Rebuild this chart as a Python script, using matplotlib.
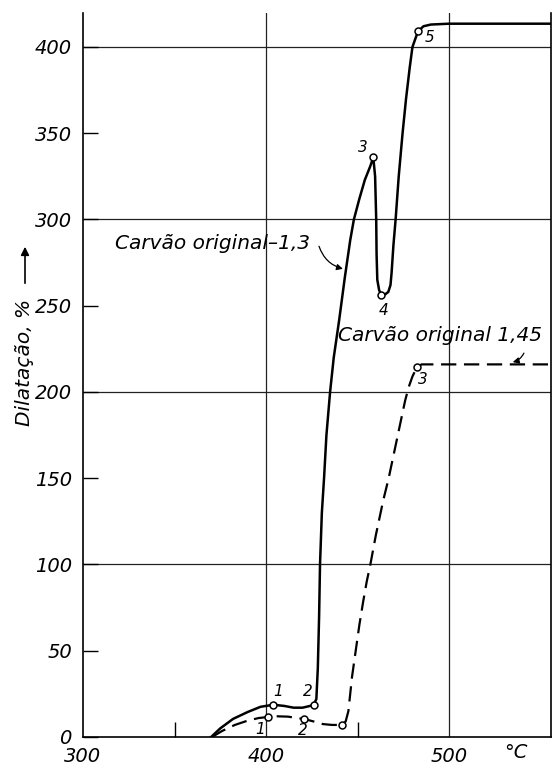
import matplotlib
matplotlib.use("Agg")
import matplotlib.pyplot as plt

plt.rcParams['font.family'] = ['DejaVu Sans']
plt.rcParams['lines.scale_dashes'] = False

# curve "Carvao original - 1,3" (solid)
t_solid = [370, 375, 382, 390, 397, 404, 410, 415, 420, 424, 426, 427.5, 428.3, 429, 429.5,
           430.5, 431.7, 433, 435, 437, 440, 443, 446, 448, 451, 454, 457, 458.6,
           459.6, 460.2, 460.4, 460.8, 461.8, 463, 465, 466.8, 468, 468.6, 469.6, 470.8,
           472.5, 474.6, 476.5, 478.5, 480, 483, 486, 490, 500, 556]
d_solid = [0, 5, 10.5, 14.5, 17.5, 18.7, 18, 17, 17, 18, 18.7, 22, 40, 70, 100,
           130, 150, 175, 200, 220, 242, 266, 288, 300, 312, 323, 331, 336,
           325, 300, 280, 265, 259, 256.5, 256.5, 258, 262, 269, 285, 300,
           325, 350, 370, 388, 400, 409, 412, 413, 413.5, 413.5]

# curve "Carvao original 1,45" (dashed)
t_dash = [370.5, 376, 383, 390, 396, 401, 406, 412, 417, 421, 426, 431, 436, 441.5, 443.5,
          445, 446, 447, 449, 451, 453, 455, 457, 460, 464, 467, 470, 473, 476, 478, 480,
          482.5, 485, 556]
d_dash = [0, 3.5, 7, 9.5, 11, 11.6, 12, 11.8, 11, 10.4, 9, 7.5, 7, 7, 9,
          15, 25, 35, 50, 65, 78, 90, 100, 117, 137, 150, 165, 180, 195, 203, 209,
          214.5, 216, 216]

# numbered points
pts_solid_t = [404, 426, 458.6, 463, 483]
pts_solid_d = [18.7, 18.7, 336, 256.5, 409]
pts_solid_lbl = ["1", "2", "3", "4", "5"]
pts_dash_t = [401, 421, 441.5, 482.5]
pts_dash_d = [11.6, 10.4, 7, 214.5]
pts_dash_lbl = ["1", "2", "", "3"]

x_ticks = [300, 400, 500]
y_ticks = [0, 50, 100, 150, 200, 250, 300, 350, 400]

fig = plt.figure(figsize=(5.52, 7.65), dpi=100)
ax = fig.add_axes([83 / 552, 28 / 765, 468 / 552, 724 / 765])
ax.set_xlim(300, 555.7)
ax.set_ylim(0, 419.7)

# grid lines of the drawing
for v in [100, 200, 300, 400]:
    ax.axhline(v, color="#222222", lw=0.9, zorder=1)
for v in [400, 500]:
    ax.axvline(v, color="#222222", lw=0.9, zorder=1)

ax.plot(t_solid, d_solid, color="black", lw=1.8, zorder=3)
ax.plot(t_dash, d_dash, color="black", lw=1.6, dashes=(11, 5.5), zorder=3)
ax.plot(pts_solid_t, pts_solid_d, "o", ms=5, mfc="white", mec="black", mew=1.1, zorder=4)
ax.plot(pts_dash_t, pts_dash_d, "o", ms=5, mfc="white", mec="black", mew=1.1, zorder=4)

# point numbers
lbl_font = dict(fontsize=11, style="italic", ha="center", va="center")
solid_off = [(2.5, 7.5), (-3, 7.5), (-5.5, 6), (1, -9), (6.5, -3.5)]
for t, d, s, (dx, dy) in zip(pts_solid_t, pts_solid_d, pts_solid_lbl, solid_off):
    ax.text(t + dx, d + dy, s, **lbl_font)
dash_off = [(-4, -7.5), (-1, -6.5), (0, 0), (3.3, -7.5)]
for t, d, s, (dx, dy) in zip(pts_dash_t, pts_dash_d, pts_dash_lbl, dash_off):
    if s:
        ax.text(t + dx, d + dy, s, **lbl_font)

# curve captions
cap_font = dict(fontsize=14.5, style="italic", va="center")
ax.text(317.5, 286, "Carvão original–1,3", ha="left", **cap_font)
ax.annotate("", xy=(443.5, 271), xytext=(428.5, 286),
            arrowprops=dict(arrowstyle="-|>", color="black", lw=0.9,
                            connectionstyle="arc3,rad=0.3", mutation_scale=9))
ax.text(551, 233, "Carvão original 1,45", ha="right", **cap_font)
ax.annotate("", xy=(533.3, 217), xytext=(541.5, 224),
            arrowprops=dict(arrowstyle="-|>", color="black", lw=0.9,
                            connectionstyle="arc3,rad=-0.3", mutation_scale=9))

# axes styling
ax.spines["top"].set_visible(False)
for s in ["left", "bottom", "right"]:
    ax.spines[s].set_linewidth(1.2)
ax.set_xticks(x_ticks)
ax.set_xticklabels([str(v) for v in x_ticks])
ax.set_xticks([350, 450], minor=True)
ax.tick_params(axis="x", which="major", length=0, pad=7, labelsize=14)
ax.tick_params(axis="x", which="minor", direction="in", length=11, width=1)
ax.set_yticks(y_ticks)
ax.set_yticklabels([str(v) for v in y_ticks])
ax.tick_params(axis="y", direction="in", length=11, width=1, pad=8, labelsize=14)
for lab in ax.get_xticklabels() + ax.get_yticklabels():
    lab.set_fontstyle("italic")
ax.text(536.6, -0.022, "°C", transform=ax.get_xaxis_transform(),
        ha="center", va="center", fontsize=14, style="italic")

# y axis title with arrow
fig.text(25 / 552, 1 - 362 / 765, "Dilatação, %", rotation=90, ha="center", va="center",
         fontsize=14.5, style="italic")
fig.add_artist(matplotlib.patches.FancyArrowPatch(
    (25 / 552, 1 - 286 / 765), (25 / 552, 1 - 244 / 765), transform=fig.transFigure,
    arrowstyle="-|>", mutation_scale=12, color="black", lw=1.2))

fig.savefig("out.png", dpi=100)
